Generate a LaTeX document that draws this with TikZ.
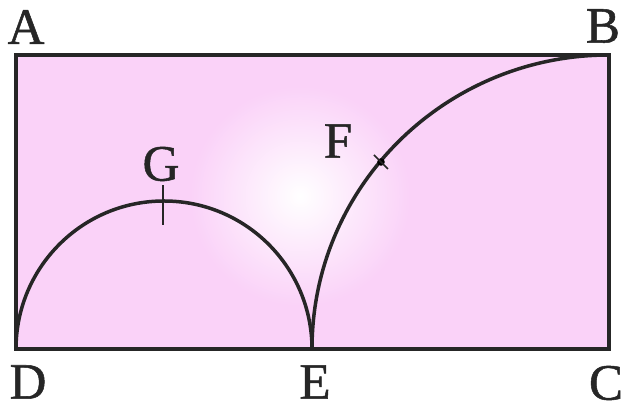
\documentclass[tikz,border=0pt]{standalone}
\usepackage{fontspec}
\setmainfont[FakeBold=1.0]{Liberation Serif}
\usetikzlibrary{calc}
\begin{document}
\begin{tikzpicture}[x=1pt,y=1pt,
  lab/.style={font=\fontsize{51}{51}\selectfont, inner sep=0pt, text=black!85},
  edge/.style={line width=4.5pt, draw=black!85},
  arcline/.style={line width=3.5pt, draw=black!85}]
\useasboundingbox (0,0) rectangle (624,411);
\definecolor{pinkfill}{RGB}{250,210,248}
\coordinate (D) at (16,62);
\coordinate (C) at (609,62);
\coordinate (A) at (16,356);
\coordinate (B) at (609,356);
\coordinate (E) at (312,62);
\coordinate (F) at (381,249);
\coordinate (G) at (164,207);
% fill with light centre
\begin{scope}
\clip (D) rectangle (B);
\fill[pinkfill] (D) rectangle (B);
\shade[inner color=white, outer color=pinkfill] (300,215) circle (110);
\end{scope}
% arcs
\draw[arcline] (D) arc[start angle=180, end angle=0, radius=148];
\draw[arcline] (E) arc[start angle=180, end angle=90, x radius=297, y radius=294];
% rectangle
\draw[edge] (A) -- (B) -- (C) -- (D) -- cycle;
% marks
\draw[line width=2.2pt, black!85] (163,186) -- (163,226);
\fill[black] (F) circle (3.8);
\draw[line width=1.6pt, black!85] ($(F)+(-7,7)$) -- ($(F)+(7,-7)$);
% labels
\node[lab] (lA) at (26,384) {A};
\node[lab] (lB) at (603,385) {B};
\node[lab] (lC) at (606,28) {C};
\node[lab] (lD) at (28,29) {D};
\node[lab] (lE) at (315,29) {E};
\node[lab] (lF) at (338,270) {F};
\node[lab] (lG) at (161,247) {G};
\end{tikzpicture}
\end{document}
